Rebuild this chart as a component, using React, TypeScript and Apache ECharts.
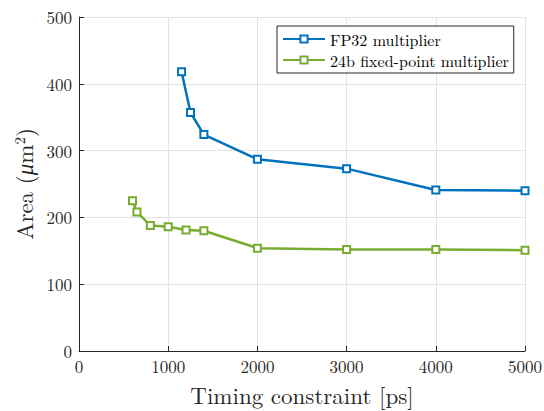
import React, { useEffect, useRef } from "react";
import * as echarts from "echarts";

const fp32X = [1150, 1250, 1400, 2000, 3000, 4000, 5000];
const fp32Y = [418, 357, 324, 287, 273, 241, 240];
const fixX = [600, 650, 800, 1000, 1200, 1400, 2000, 3000, 4000, 5000];
const fixY = [225, 208, 188, 186, 181, 180, 154, 152, 152, 151];
const seriesNames = ["FP32 multiplier", "24b fixed-point multiplier"];
const xTitle = "Timing constraint [ps]";

const FONT = "'Latin Modern Roman', 'Liberation Serif', 'DejaVu Serif', serif";

export default function App() {
  const ref = useRef<HTMLDivElement>(null);
  useEffect(() => {
    if (!ref.current) return;
    const chart = echarts.init(ref.current, undefined, { renderer: "svg" });
    const mk = (xs: number[], ys: number[]) => xs.map((x, i) => [x, ys[i]]);
    chart.setOption({
      animation: false,
      backgroundColor: "#ffffff",
      textStyle: { fontFamily: FONT },
      grid: { left: 79, right: 19, top: 17, bottom: 60, outerBoundsMode: "none", containLabel: false },
      legend: {
        orient: "vertical",
        left: 277,
        top: 26,
        backgroundColor: "#ffffff",
        borderColor: "#262626",
        borderWidth: 1,
        borderRadius: 0,
        padding: [4, 5, 4, 5],
        itemGap: 3,
        itemWidth: 42,
        itemHeight: 9,
        textStyle: { fontFamily: FONT, fontSize: 16, color: "#000", lineHeight: 18 },
        data: seriesNames,
      },
      xAxis: {
        type: "value",
        min: 0,
        max: 5000,
        interval: 1000,
        name: xTitle,
        nameLocation: "middle",
        nameGap: 31,
        nameTextStyle: { fontFamily: FONT, fontSize: 23, color: "#262626", lineHeight: 24 },
        axisLine: { show: true, lineStyle: { color: "#262626", width: 1 } },
        axisTick: { show: true, inside: true, length: 5, lineStyle: { color: "#262626" } },
        axisLabel: {
          fontFamily: FONT,
          fontSize: 17,
          color: "#262626",
          margin: 6,
          lineHeight: 18,
          formatter: (v: number) => String(v),
        },
        splitLine: { show: true, lineStyle: { color: "#e3e3e3", width: 1 } },
      },
      yAxis: {
        type: "value",
        min: 0,
        max: 500,
        interval: 100,
        name: "{a|Area (}{m|μ}{a|m}{s|2}{a|)}",
        nameLocation: "middle",
        nameGap: 43,
        nameRotate: 90,
        nameTextStyle: {
          color: "#262626",
          rich: {
            a: { fontFamily: FONT, fontSize: 23, color: "#262626" },
            m: { fontFamily: FONT, fontSize: 23, fontStyle: "italic", color: "#262626" },
            s: { fontFamily: FONT, fontSize: 15, color: "#262626", verticalAlign: "top", padding: [0, 0, 10, 0] },
          },
        },
        axisLine: { show: true, lineStyle: { color: "#262626", width: 1 } },
        axisTick: { show: true, inside: true, length: 5, lineStyle: { color: "#262626" } },
        axisLabel: { fontFamily: FONT, fontSize: 17, color: "#262626", margin: 7 },
        splitLine: { show: true, lineStyle: { color: "#e3e3e3", width: 1 } },
      },
      series: [
        {
          name: seriesNames[0],
          type: "line",
          data: mk(fp32X, fp32Y),
          symbol: "emptyRect",
          symbolSize: 7,
          lineStyle: { color: "#0072BD", width: 2.5 },
          itemStyle: { color: "#0072BD", borderColor: "#0072BD", borderWidth: 2 },
        },
        {
          name: seriesNames[1],
          type: "line",
          data: mk(fixX, fixY),
          symbol: "emptyRect",
          symbolSize: 7,
          lineStyle: { color: "#77AC30", width: 2.5 },
          itemStyle: { color: "#77AC30", borderColor: "#77AC30", borderWidth: 2 },
        },
      ],
    });
    return () => chart.dispose();
  }, []);
  return <div ref={ref} style={{ width: 544, height: 411, position: "absolute", left: 0, top: 0 }} />;
}
